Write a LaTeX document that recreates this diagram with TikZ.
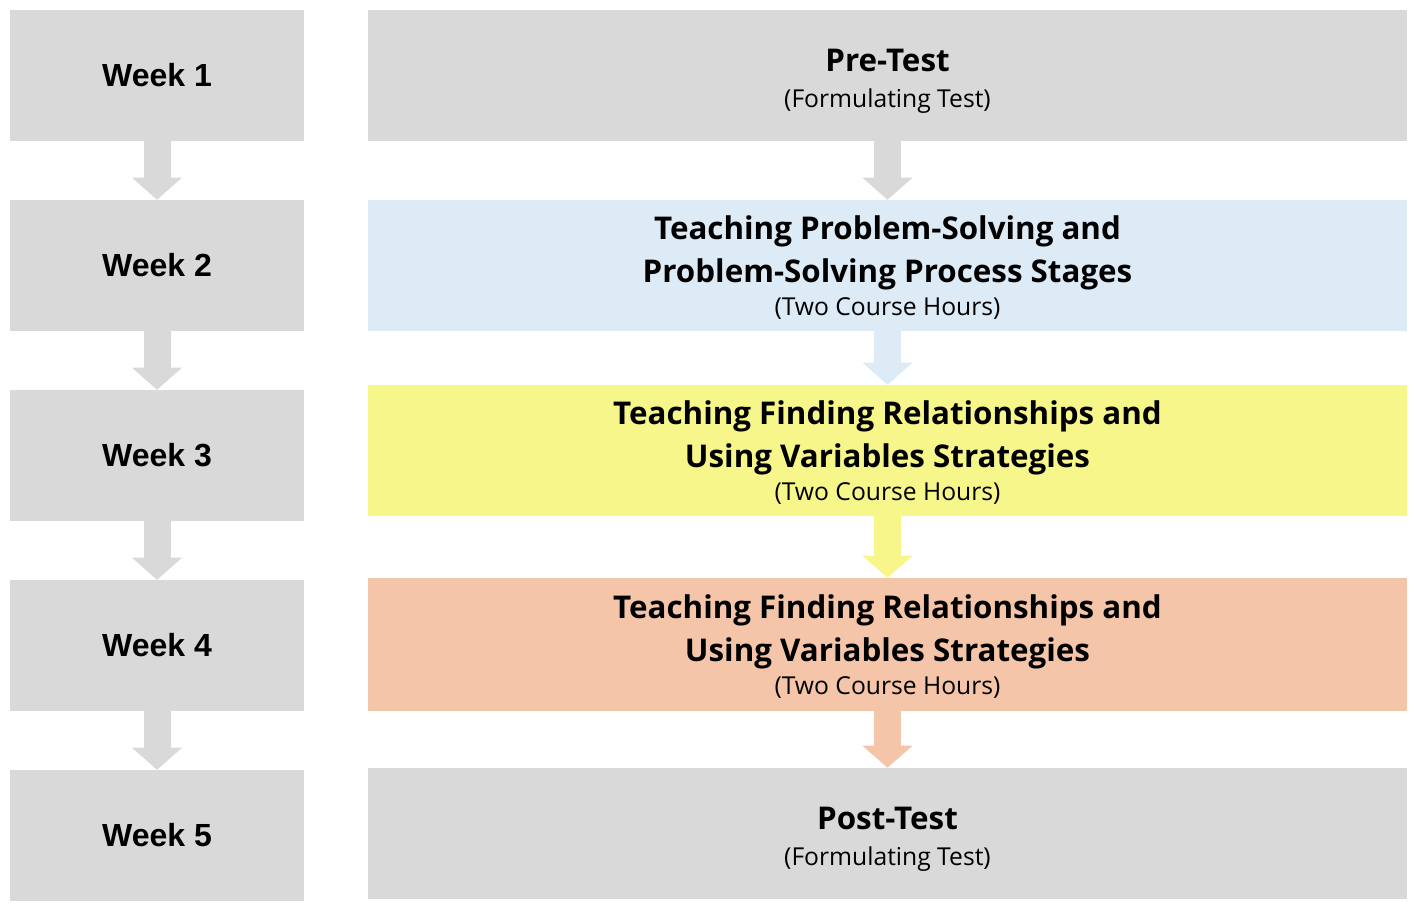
\documentclass[tikz,border=0pt]{standalone}
\usepackage{fontspec}
\setmainfont{Open Sans}
\newfontfamily\weekfont{Liberation Sans}
\usetikzlibrary{arrows.meta}
\definecolor{boxgray}{HTML}{D9D9D9}
\definecolor{boxblue}{HTML}{DDEBF7}
\definecolor{boxyellow}{HTML}{F6F68A}
\definecolor{boxorange}{HTML}{F4C5A9}
\newcommand{\topgap}[1]{\rule{0pt}{#1}}
\newcommand{\hours}[1]{\\[-7pt]{\mdseries\fontsize{18.5}{20}\selectfont #1}}
\tikzset{
  week/.style={fill=boxgray, minimum width=220.5pt, minimum height=98.25pt,
    font=\weekfont\bfseries\fontsize{24}{28}\selectfont},
  stage/.style={minimum width=779.25pt, minimum height=98.25pt, align=center,
    font=\bfseries\fontsize{23.5}{32}\selectfont},
  flow/.style={line width=20.25pt, -{Triangle[width=37.5pt,length=16.5pt,line width=0pt]}}
}
\begin{document}
\begin{tikzpicture}[x=0.75pt,y=-0.75pt]
  \useasboundingbox (0,0) rectangle (1417,911);
  % weeks
  \foreach \i/\y in {1/75.5,2/265.5,3/455.5,4/645.5,5/835.5}
    \node[week] (w\i) at (157,\y) {Week \i};
  \foreach \i/\j in {1/2,2/3,3/4,4/5}
    \draw[flow, boxgray] (w\i) -- (w\j);
  % stages
  \node[stage, fill=boxgray] (pre) at (887.5,75.5) {\topgap{25.5pt}Pre-Test\\[-5pt]{\mdseries\fontsize{18.5}{20}\selectfont (Formulating Test)}};
  \node[stage, fill=boxblue] (solve) at (887.5,265.5) {\topgap{21pt}Teaching Problem-Solving and\\Problem-Solving Process Stages\hours{(Two Course Hours)}};
  \node[stage, fill=boxyellow] (find) at (887.5,450.5) {\topgap{21pt}Teaching Finding Relationships and\\Using Variables Strategies\hours{(Two Course Hours)}};
  \node[stage, fill=boxorange, minimum height=99.75pt] (vars) at (887.5,644.5) {\topgap{21pt}Teaching Finding Relationships and\\Using Variables Strategies\hours{(Two Course Hours)}};
  \node[stage, fill=boxgray] (post) at (887.5,833.5) {\topgap{25.5pt}Post-Test\\[-5pt]{\mdseries\fontsize{18.5}{20}\selectfont (Formulating Test)}};
  \draw[flow, boxgray] (pre) -- (solve);
  \draw[flow, boxblue] (solve) -- (find);
  \draw[flow, boxyellow] (find) -- (vars);
  \draw[flow, boxorange] (vars) -- (post);
\end{tikzpicture}
\end{document}
